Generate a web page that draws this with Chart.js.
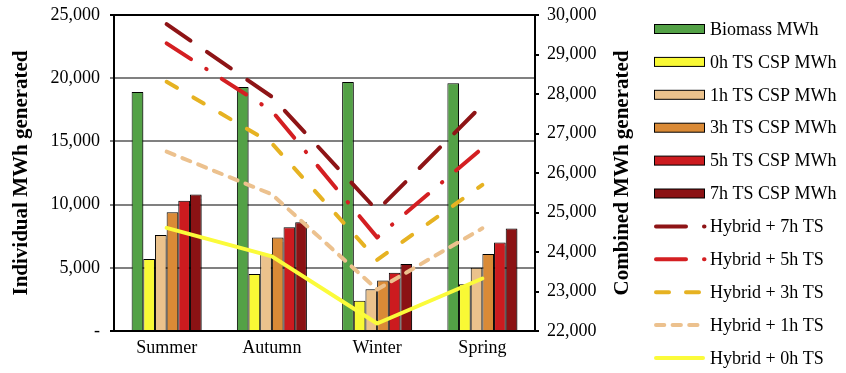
<!DOCTYPE html>
<html>
<head>
<meta charset="utf-8">
<title>Seasonal MWh generated</title>
<script src="https://cdn.jsdelivr.net/npm/chart.js@4"></script>
<style>
  html, body { margin: 0; padding: 0; background: #fff; }
  canvas { display: block; }
</style>
</head>
<body>
<canvas id="energyChart" width="846" height="373"></canvas>
<script>
// Seasons on the x axis
const seasons = ['Summer', 'Autumn', 'Winter', 'Spring'];

// Individual plant output (left axis, MWh)
const biomassMWh = [18900, 19300, 19700, 19600];
const csp0hMWh = [5700, 4500, 2400, 3700];
const csp1hMWh = [7600, 6100, 3300, 5000];
const csp3hMWh = [9400, 7400, 4000, 6100];
const csp5hMWh = [10300, 8200, 4600, 7000];
const csp7hMWh = [10800, 8600, 5300, 8100];

// Combined hybrid output (right axis, MWh)
const hybrid7h = [29770, 27930, 25050, 27720];
const hybrid5h = [29280, 27570, 24370, 26630];
const hybrid3h = [28310, 26750, 23800, 25700];
const hybrid1h = [26540, 25460, 23050, 24600];
const hybrid0h = [24610, 23890, 22190, 23330];

// Axis ranges / ticks
const leftMax = 25000, leftStep = 5000;
const rightMin = 22000, rightMax = 30000, rightStep = 1000;

const serif = "'Liberation Serif', 'Times New Roman', serif";
Chart.defaults.font.family = serif;
Chart.defaults.font.size = 18;
Chart.defaults.color = '#000';

// order also fixes the left-to-right position inside each season group
function barSet(label, data, color, order) {
  return {
    type: 'bar', label, data, order,
    backgroundColor: color, borderColor: '#000', borderWidth: 1,
    categoryPercentage: 0.665, barPercentage: 1, yAxisID: 'y'
  };
}

function lineSet(label, data, color, dash, legendDash) {
  return {
    type: 'line', label, data, order: 0,
    borderColor: color, backgroundColor: color, borderWidth: 4,
    borderDash: dash, borderCapStyle: 'round', borderJoinStyle: 'round',
    pointRadius: 0, fill: false, tension: 0, yAxisID: 'y1',
    legendDash
  };
}

// keep tick-label overhang from pushing the plot area down
function noEdgePadding(scale) {
  scale.paddingTop = 0;
  scale.paddingBottom = 0;
}

// shadows under bars, right-hand axis title and the legend
const decorations = {
  id: 'decorations',
  beforeDatasetDraw(chart, args) {
    if (args.meta.type !== 'bar') return;
    const ctx = chart.ctx;
    ctx.save();
    ctx.shadowColor = 'rgba(0,0,0,0.3)';
    ctx.shadowOffsetX = 2;
    ctx.shadowOffsetY = 1;
    ctx.shadowBlur = 1;
  },
  afterDatasetDraw(chart, args) {
    if (args.meta.type !== 'bar') return;
    chart.ctx.restore();
  },
  afterDraw(chart) {
    const ctx = chart.ctx;
    const area = chart.chartArea;

    ctx.save();
    ctx.translate(623, (area.top + area.bottom) / 2);
    ctx.rotate(-Math.PI / 2);
    ctx.font = 'bold 21px ' + serif;
    ctx.fillStyle = '#000';
    ctx.textAlign = 'center';
    ctx.textBaseline = 'middle';
    ctx.fillText('Combined MWh generated', 0, 0);
    ctx.restore();

    chart.data.datasets.forEach((ds, i) => {
      const y = 29 + i * 32.9;
      ctx.save();
      if (ds.type === 'bar') {
        ctx.fillStyle = ds.backgroundColor;
        ctx.fillRect(654.5, y - 4.5, 50, 9);
        ctx.strokeStyle = '#000';
        ctx.lineWidth = 1;
        ctx.strokeRect(654.5, y - 4.5, 50, 9);
      } else {
        ctx.strokeStyle = ds.borderColor;
        ctx.lineWidth = 4;
        ctx.lineCap = 'round';
        ctx.setLineDash(ds.legendDash);
        ctx.beginPath();
        ctx.moveTo(656, y);
        ctx.lineTo(705, y);
        ctx.stroke();
      }
      ctx.setLineDash([]);
      ctx.font = '18px ' + serif;
      ctx.fillStyle = '#000';
      ctx.textBaseline = 'middle';
      ctx.fillText(ds.label, 710, y + 1);
      ctx.restore();
    });
  }
};

const ctx = document.getElementById('energyChart').getContext('2d');
const energyChart = new Chart(ctx, {
  data: {
    labels: seasons,
    datasets: [
      barSet('Biomass MWh', biomassMWh, '#53a146', 1),
      barSet('0h TS CSP MWh', csp0hMWh, '#f9f935', 2),
      barSet('1h TS CSP MWh', csp1hMWh, '#ebc28c', 3),
      barSet('3h TS CSP MWh', csp3hMWh, '#da8a36', 4),
      barSet('5h TS CSP MWh', csp5hMWh, '#cc1b1f', 5),
      barSet('7h TS CSP MWh', csp7hMWh, '#8b1214', 6),
      lineSet('Hybrid + 7h TS', hybrid7h, '#8e1416', [29, 20], [30, 18, 0.5, 100]),
      lineSet('Hybrid + 5h TS', hybrid5h, '#d41f22', [29, 18, 0.5, 18], [30, 18, 0.5, 100]),
      lineSet('Hybrid + 3h TS', hybrid3h, '#e6b222', [12, 19], [13, 17]),
      lineSet('Hybrid + 1h TS', hybrid1h, '#ecc18e', [8.5, 8.5], [8.3, 8.3]),
      lineSet('Hybrid + 0h TS', hybrid0h, '#fbfb3a', [], [47, 100])
    ]
  },
  options: {
    responsive: false,
    animation: false,
    layout: { padding: { left: 9, right: 210, top: 15, bottom: 0 } },
    plugins: {
      legend: { display: false },
      tooltip: { enabled: false }
    },
    scales: {
      x: {
        grid: { display: false, drawTicks: false },
        border: { color: '#000', width: 2 },
        ticks: { padding: 6, font: { size: 18 } },
        afterFit(scale) { scale.height = 42; }
      },
      y: {
        position: 'left',
        min: 0,
        max: leftMax,
        ticks: {
          stepSize: leftStep,
          padding: 10,
          callback: v => v === 0 ? '-' : v.toLocaleString('en-US')
        },
        grid: {
          color: c => (c.tick && (c.tick.value === leftMax || c.tick.value === 0)) ? '#000' : '#808080',
          lineWidth: 2,
          tickLength: 4
        },
        border: { color: '#000', width: 2 },
        title: {
          display: true,
          text: 'Individual MWh generated',
          font: { size: 21, weight: 'bold' },
          padding: 0
        },
        afterFit(scale) { scale.width = 105; noEdgePadding(scale); }
      },
      y1: {
        position: 'right',
        min: rightMin,
        max: rightMax,
        ticks: {
          stepSize: rightStep,
          padding: 8,
          callback: v => v.toLocaleString('en-US')
        },
        grid: { drawOnChartArea: false, color: '#000', lineWidth: 2, tickLength: 4 },
        border: { color: '#000', width: 2 },
        afterFit(scale) { scale.width = 101; noEdgePadding(scale); }
      }
    }
  },
  plugins: [decorations]
});
</script>
</body>
</html>
